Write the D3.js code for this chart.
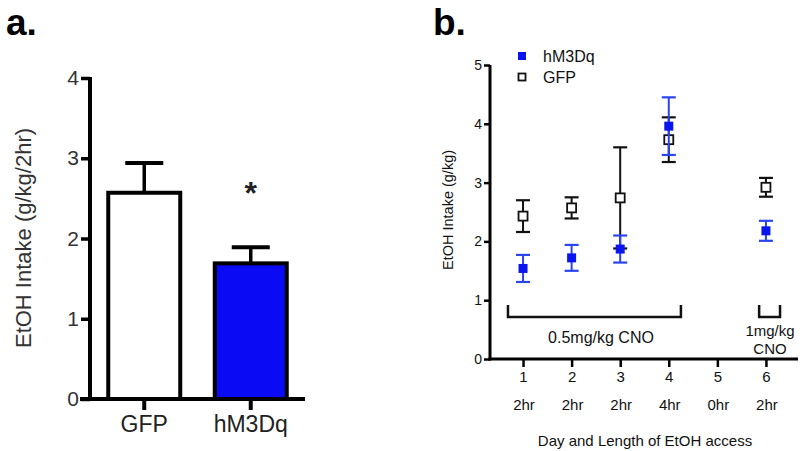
<!DOCTYPE html>
<html>
<head>
<meta charset="utf-8">
<script src="https://cdn.jsdelivr.net/npm/d3@7"></script>
<style>
  html, body { margin: 0; padding: 0; background: #fff; }
  svg { display: block; font-family: Arial, "Liberation Sans", Helvetica, sans-serif; }
</style>
</head>
<body>
<svg id="chart" width="800" height="451"></svg>
<script>
// ---- Panel a data ----
const barCategories = ["GFP", "hM3Dq"];
const barMeans = [2.57, 1.69];
const barSEM = [0.37, 0.20];
const barFills = ["#ffffff", "#0a0af5"];
const barYTicks = [0, 1, 2, 3, 4];

// ---- Panel b data ----
const days = [1, 2, 3, 4, 6];
const dayTickValues = [1, 2, 3, 4, 5, 6];
const dayTickLabels = ["1", "2", "3", "4", "5", "6"];
const accessLabels = ["2hr", "2hr", "2hr", "4hr", "0hr", "2hr"];
const hM3DqMeans = [1.54, 1.72, 1.87, 3.96, 2.18];
const hM3DqSEM = [0.23, 0.22, 0.23, 0.49, 0.17];
const gfpMeans = [2.43, 2.57, 2.74, 3.73, 2.92];
const gfpSEM = [0.27, 0.18, 0.86, 0.38, 0.16];
const lineYTicks = [0, 1, 2, 3, 4, 5];

const svg = d3.select("#chart");
const FONT = 'Arial, "Liberation Sans", Helvetica, sans-serif';

// =================== Panel a ===================
const ya = d3.scaleLinear().domain([0, 4]).range([399, 78]);
const xa = d3.scaleBand().domain(barCategories).range([91, 304])
  .paddingInner(0.324).paddingOuter(0.162);

const ga = svg.append("g");

// bars
ga.selectAll("rect.bar").data(barCategories).join("rect")
  .attr("class", "bar")
  .attr("x", d => xa(d))
  .attr("width", xa.bandwidth())
  .attr("y", (d, i) => ya(barMeans[i]))
  .attr("height", (d, i) => ya(0) - ya(barMeans[i]))
  .attr("fill", (d, i) => barFills[i])
  .attr("stroke", "#000")
  .attr("stroke-width", 4);

// error bars (upper only)
barCategories.forEach((c, i) => {
  const cx = xa(c) + xa.bandwidth() / 2;
  const top = ya(barMeans[i] + barSEM[i]);
  ga.append("line").attr("x1", cx).attr("x2", cx)
    .attr("y1", ya(barMeans[i])).attr("y2", top)
    .attr("stroke", "#000").attr("stroke-width", 3.5);
  ga.append("line").attr("x1", cx - 19).attr("x2", cx + 19)
    .attr("y1", top).attr("y2", top)
    .attr("stroke", "#000").attr("stroke-width", 4);
});

// significance star
ga.append("text")
  .attr("x", xa("hM3Dq") + xa.bandwidth() / 2)
  .attr("y", ya(barMeans[1] + barSEM[1]) - 43)
  .attr("text-anchor", "middle")
  .attr("font-size", 32).attr("font-weight", "bold").attr("font-family", FONT).attr("fill", "#222")
  .text("*");

// y axis
const yAxisA = ga.append("g").attr("transform", "translate(90,0)")
  .call(d3.axisLeft(ya).tickValues(barYTicks).tickSize(9).tickSizeOuter(0).tickPadding(2).tickFormat(d3.format("d")));
yAxisA.select(".domain").attr("stroke-width", 4).attr("d", "M0," + (ya(0) + 2) + "V" + (ya(4) - 1));
yAxisA.selectAll(".tick line").attr("stroke-width", 3.5);
yAxisA.selectAll(".tick text").attr("font-size", 21).attr("font-family", FONT).attr("fill", "#333");

// x axis
const xAxisA = ga.append("g").attr("transform", "translate(0," + ya(0) + ")")
  .call(d3.axisBottom(xa).tickSize(11).tickSizeOuter(0).tickPadding(6));
xAxisA.select(".domain").attr("stroke-width", 4).attr("d", "M80,0H305");
xAxisA.selectAll(".tick line").attr("stroke-width", 4);
xAxisA.selectAll(".tick text").attr("font-size", 23).attr("font-family", FONT).attr("fill", "#222");

// y title
ga.append("text")
  .attr("transform", "translate(31,238) rotate(-90)")
  .attr("text-anchor", "middle")
  .attr("font-size", 22).attr("font-family", FONT).attr("fill", "#333")
  .text("EtOH Intake (g/kg/2hr)");

// panel label
svg.append("text").attr("x", 6).attr("y", 35)
  .attr("font-size", 37).attr("font-weight", "bold").attr("font-family", FONT)
  .text("a.");

// =================== Panel b ===================
const yb = d3.scaleLinear().domain([0, 5]).range([359, 65]);
const xb = d3.scaleLinear().domain([0.32, 6.66]).range([490, 798]);
const gb = svg.append("g");

const yAxisB = gb.append("g").attr("transform", "translate(490,0)")
  .call(d3.axisLeft(yb).tickValues(lineYTicks).tickSize(6).tickSizeOuter(0).tickPadding(2).tickFormat(d3.format("d")));
yAxisB.select(".domain").attr("stroke-width", 3).attr("d", "M0," + (yb(0) + 1.5) + "V" + yb(5));
yAxisB.selectAll(".tick line").attr("stroke-width", 2.5);
yAxisB.selectAll(".tick text").attr("font-size", 14).attr("font-family", FONT).attr("fill", "#111");

const xAxisB = gb.append("g").attr("transform", "translate(0," + yb(0) + ")")
  .call(d3.axisBottom(xb).tickValues(dayTickValues).tickSize(8).tickSizeOuter(0).tickPadding(4)
    .tickFormat((d, i) => dayTickLabels[i]));
xAxisB.select(".domain").attr("stroke-width", 3).attr("d", "M488.5,0H798");
xAxisB.selectAll(".tick line").attr("stroke-width", 2.5);
xAxisB.selectAll(".tick text").attr("font-size", 15).attr("font-family", FONT).attr("fill", "#111");

// access length labels
gb.selectAll("text.acc").data(dayTickValues).join("text")
  .attr("class", "acc")
  .attr("x", (d, i) => xb(d) + 1)
  .attr("y", 410)
  .attr("text-anchor", "middle")
  .attr("font-size", 15).attr("font-family", FONT).attr("fill", "#111")
  .text((d, i) => accessLabels[i]);

// x title
gb.append("text").attr("x", 645).attr("y", 446)
  .attr("text-anchor", "middle")
  .attr("font-size", 15).attr("font-family", FONT).attr("fill", "#111")
  .text("Day and Length of EtOH access");

// y title
gb.append("text")
  .attr("transform", "translate(453,210) rotate(-90)")
  .attr("text-anchor", "middle")
  .attr("font-size", 14.5).attr("font-family", FONT).attr("fill", "#111")
  .text("EtOH Intake (g/kg)");

// error bars + markers
function drawSeries(means, sems, color, barColor, filled) {
  const g = gb.append("g");
  days.forEach((d, i) => {
    const cx = xb(d);
    const lo = yb(means[i] - sems[i]), hi = yb(means[i] + sems[i]);
    g.append("line").attr("x1", cx).attr("x2", cx).attr("y1", lo).attr("y2", hi)
      .attr("stroke", barColor).attr("stroke-width", 2);
    [lo, hi].forEach(yy => g.append("line").attr("x1", cx - 7).attr("x2", cx + 7)
      .attr("y1", yy).attr("y2", yy).attr("stroke", barColor).attr("stroke-width", 2.2));
  });
  g.selectAll("rect").data(days).join("rect")
    .attr("x", d => xb(d) - 4.5)
    .attr("y", (d, i) => yb(means[i]) - 4.5)
    .attr("width", 9).attr("height", 9)
    .attr("fill", filled ? color : "#fff")
    .attr("stroke", color).attr("stroke-width", filled ? 0 : 1.8);
}
drawSeries(gfpMeans, gfpSEM, "#111", "#111", false);
drawSeries(hM3DqMeans, hM3DqSEM, "#0a14f0", "#2a44ee", true);

// legend
const legend = gb.append("g");
legend.append("rect").attr("x", 518).attr("y", 52).attr("width", 8).attr("height", 8).attr("fill", "#0a14f0");
legend.append("text").attr("x", 543).attr("y", 62).attr("font-size", 16).attr("font-family", FONT).attr("fill", "#111").text("hM3Dq");
legend.append("rect").attr("x", 518.5).attr("y", 73.5).attr("width", 7).attr("height", 7)
  .attr("fill", "#fff").attr("stroke", "#111").attr("stroke-width", 1.8);
legend.append("text").attr("x", 543).attr("y", 83).attr("font-size", 16).attr("font-family", FONT).attr("fill", "#111").text("GFP");

// brackets
function bracket(x1, x2) {
  gb.append("path")
    .attr("d", `M${x1},305V317H${x2}V305`)
    .attr("fill", "none").attr("stroke", "#111").attr("stroke-width", 2.5);
}
bracket(xb(0.69), xb(4.25));
bracket(xb(5.86), xb(6.29));

gb.append("text").attr("x", 601).attr("y", 343)
  .attr("text-anchor", "middle").attr("font-size", 16).attr("font-family", FONT).attr("fill", "#111")
  .text("0.5mg/kg CNO");
gb.append("text").attr("x", 770).attr("y", 336)
  .attr("text-anchor", "middle").attr("font-size", 15).attr("font-family", FONT).attr("fill", "#111")
  .text("1mg/kg");
gb.append("text").attr("x", 770).attr("y", 354)
  .attr("text-anchor", "middle").attr("font-size", 15).attr("font-family", FONT).attr("fill", "#111")
  .text("CNO");

svg.append("text").attr("x", 433).attr("y", 35)
  .attr("font-size", 37).attr("font-weight", "bold").attr("font-family", FONT)
  .text("b.");
</script>
</body>
</html>
